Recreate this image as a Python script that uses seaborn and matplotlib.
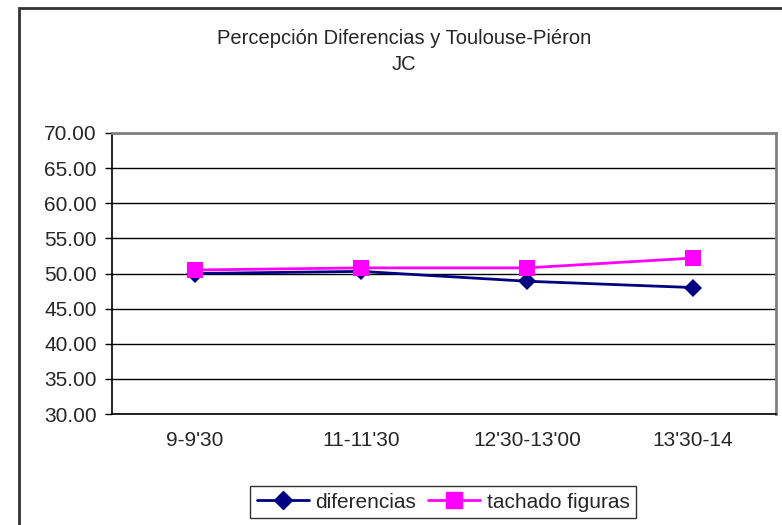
import matplotlib
matplotlib.use("Agg")
import numpy as np
import pandas as pd
from matplotlib import pyplot as plt
from matplotlib.patches import Rectangle
import seaborn as sns

# values
periodos = ["9-9'30", "11-11'30", "12'30-13'00", "13'30-14"]
diferencias = [50.0, 50.3, 48.9, 48.0]
tachado_figuras = [50.5, 50.8, 50.8, 52.2]
y_ticks = [30, 35, 40, 45, 50, 55, 60, 65, 70]

sns.set_style("white")
plt.rcParams['font.family'] = ['Liberation Sans', 'DejaVu Sans']

df = pd.DataFrame({
    'periodo': periodos * 2,
    'pos': list(range(len(periodos))) * 2,
    'valor': diferencias + tachado_figuras,
    'serie': ['diferencias'] * 4 + ['tachado figuras'] * 4,
})

fig = plt.figure(figsize=(7.82, 5.25), dpi=100)
ax = fig.add_axes([112 / 782, 1 - 414 / 525, 664 / 782, 281 / 525])

sns.lineplot(data=df, x='pos', y='valor', hue='serie', style='serie',
             palette={'diferencias': '#000080', 'tachado figuras': '#FF00FF'},
             markers={'diferencias': 'D', 'tachado figuras': 's'},
             dashes=False, linewidth=2, markersize=9, markeredgewidth=0,
             ax=ax, legend=False)
# squares are a bit bigger than the diamonds in the reference
ax.lines[1].set_markersize(12)
ax.lines[0].set_markersize(9)

ax.set_xlim(-0.5, 3.5)
ax.set_ylim(30, 70)
ax.set_yticks(y_ticks)
ax.set_yticklabels([f'{v:.2f}' for v in y_ticks], fontsize=15)
ax.set_xticks(range(len(periodos)))
ax.set_xticklabels(periodos, fontsize=15)
ax.set_xticks(np.arange(-0.5, 4, 1), minor=True)
ax.tick_params(axis='x', which='major', length=0, pad=12)
ax.tick_params(axis='x', which='minor', length=5, width=1, color='black', direction='out')
ax.tick_params(axis='y', length=5, width=1, color='black', direction='out', left=True, pad=6)
ax.set_xlabel('')
ax.set_ylabel('')
ax.yaxis.grid(True, color='black', linewidth=1)
ax.set_axisbelow(True)

for side in ['left', 'bottom']:
    ax.spines[side].set_color('black')
    ax.spines[side].set_linewidth(1.2)
for side in ['top', 'right']:
    ax.spines[side].set_color('#808080')
    ax.spines[side].set_linewidth(2)

fig.text(404 / 782, 1 - 38 / 525, 'Percepción Diferencias y Toulouse-Piéron',
         ha='center', va='center', fontsize=14.5)
fig.text(404 / 782, 1 - 65 / 525, 'JC', ha='center', va='center', fontsize=14.5)

# legend
handles = [plt.Line2D([], [], color='#000080', marker='D', markersize=9, linewidth=2),
           plt.Line2D([], [], color='#FF00FF', marker='s', markersize=12, linewidth=2)]
leg = fig.legend(handles, ['diferencias', 'tachado figuras'], ncol=2,
                 loc='center', bbox_to_anchor=(443 / 782, 1 - 502 / 525),
                 frameon=True, fancybox=False, fontsize=15, handlelength=2.5,
                 columnspacing=0.6, handletextpad=0.3, borderpad=0.3,
                 borderaxespad=0.2)
leg.get_frame().set_edgecolor('black')
leg.get_frame().set_linewidth(1)

# outer chart border (clipped on right and bottom)
fig.patches.append(Rectangle((18.5 / 782, -0.1), 1.2, 1.1 - 8.5 / 525,
                             transform=fig.transFigure, fill=False,
                             edgecolor='#333333', linewidth=2))

fig.savefig('out.png', dpi=100)
